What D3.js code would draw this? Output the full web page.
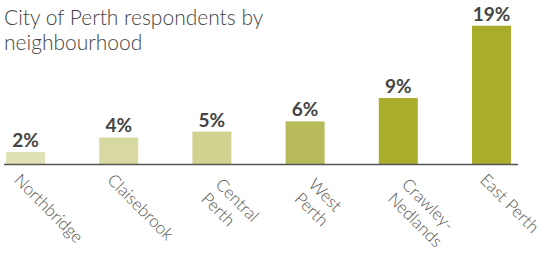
<!DOCTYPE html>
<html>
<head>
<meta charset="utf-8">
<script src="https://cdn.jsdelivr.net/npm/d3@7"></script>
<style>
  body { margin: 0; background: #fff; }
  svg { display: block; font-family: Lato, "Open Sans", sans-serif; }
</style>
</head>
<body>
<div id="chart"></div>
<script>
// neighbourhoods, share of respondents (%), label shown above bar
var neighbourhoods = [["Northbridge"], ["Claisebrook"], ["Central", "Perth"], ["West", "Perth"], ["Crawley-", "Nedlands"], ["East Perth"]];
var shares = [1.7, 3.7, 4.5, 5.9, 9.1, 19];
var shareLabels = ["2%", "4%", "5%", "6%", "9%", "19%"];
var barColors = ["#e0e2b6", "#d7d9a1", "#d0d28f", "#b8bb5a", "#a9ad2c", "#a9ad2c"];

var width = 544, height = 255;
var baseY = 164.5;

var svg = d3.select("#chart")
  .append("svg")
  .attr("width", width)
  .attr("height", height);

svg.append("text")
  .attr("x", 4)
  .attr("y", 25)
  .style("font-size", "21px")
  .style("font-weight", 300)
  .style("fill", "#444")
  .selectAll("tspan")
  .data(["City of Perth respondents by", "neighbourhood"])
  .enter()
  .append("tspan")
  .attr("x", 4)
  .attr("dy", function(d, i) { return i ? 24.5 : 0; })
  .text(function(d) { return d; });

var keys = d3.range(shares.length);

var x = d3.scaleBand()
  .domain(keys)
  .range([6, 511])
  .paddingInner(0.5815)
  .paddingOuter(0);

var y = d3.scaleLinear()
  .domain([0, 19])
  .range([baseY, 25.7]);

svg.selectAll(".bar")
  .data(keys)
  .enter()
  .append("rect")
  .attr("class", "bar")
  .attr("x", function(i) { return x(i); })
  .attr("y", function(i) { return y(shares[i]); })
  .attr("width", x.bandwidth())
  .attr("height", function(i) { return baseY - y(shares[i]); })
  .style("fill", function(i) { return barColors[i]; });

svg.selectAll(".val")
  .data(keys)
  .enter()
  .append("text")
  .attr("class", "val")
  .attr("x", function(i) { return x(i) + x.bandwidth() / 2; })
  .attr("y", function(i) { return y(shares[i]) - 5; })
  .attr("text-anchor", "middle")
  .style("font-size", "19px")
  .style("font-weight", 700)
  .style("fill", "#444")
  .text(function(i) { return shareLabels[i]; });

// baseline
svg.append("line")
  .attr("x1", 4)
  .attr("x2", 518)
  .attr("y1", baseY)
  .attr("y2", baseY)
  .style("stroke", "#555")
  .style("stroke-width", 1.5);

// rotated category labels
var lh = 20;
var ticks = svg.selectAll(".tick-label")
  .data(keys)
  .enter()
  .append("text")
  .attr("class", "tick-label")
  .attr("transform", function(i) {
    var multi = neighbourhoods[i].length > 1;
    var cx = x(i) + x.bandwidth() / 2 + (multi ? 2.5 : -12.5);
    var cy = baseY + (multi ? 21 : 16.5);
    return "translate(" + cx + "," + cy + ") rotate(45)";
  })
  .style("font-size", "17px")
  .style("font-weight", 300)
  .style("fill", "#555");

ticks.selectAll("tspan")
  .data(function(i) { return neighbourhoods[i]; })
  .enter()
  .append("tspan")
  .attr("x", 0)
  .attr("y", function(d, j) { return j * lh; })
  .text(function(d) { return d; });
</script>
</body>
</html>
